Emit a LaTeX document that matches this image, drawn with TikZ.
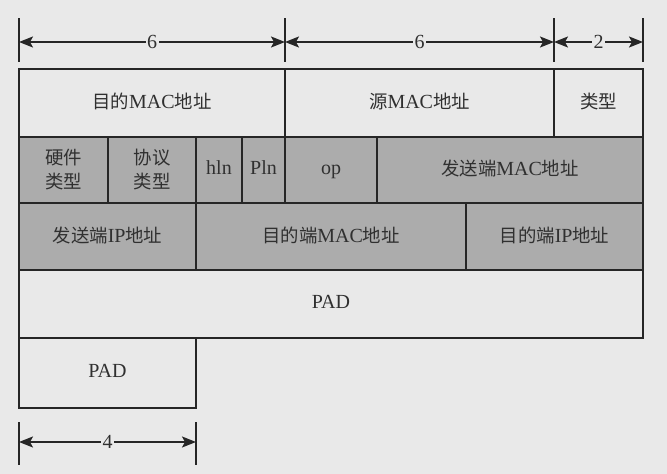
\documentclass[tikz,border=0pt]{standalone}
\usepackage{fontspec}
\setmainfont{Liberation Serif}
\newfontfamily\cjk[Scale=0.92]{Noto Sans CJK SC}
\usetikzlibrary{arrows.meta}
\definecolor{bgc}{HTML}{E9E9E9}
\definecolor{graycell}{HTML}{ACACAC}
\definecolor{linec}{HTML}{262626}
\definecolor{textc}{HTML}{303030}
\newcommand{\zh}[1]{{\cjk #1}}
\newcommand{\cellat}[7]{%
  \pgfmathsetmacro{\cw}{#4-#2}\pgfmathsetmacro{\ch}{#5-#3}%
  \node[#7, minimum width=\cw pt, minimum height=\ch pt] (#1) at ({(#2+#4)/2},{(#3+#5)/2}) {\vphantom{Ag}#6};}
\tikzset{
  cellbase/.style={draw=linec, line width=1.8pt, inner sep=0pt, outer sep=0pt, text=textc,
    font=\fontsize{20}{27}\selectfont, align=center},
  plaincell/.style={cellbase, fill=bgc},
  shadecell/.style={cellbase, fill=graycell},
  tickline/.style={draw=linec, line width=1.4pt},
  dimarrow/.style={draw=linec, line width=1.5pt, {Stealth[length=14pt,width=11pt,inset=3pt]}-{Stealth[length=14pt,width=11pt,inset=3pt]}},
  dimlabel/.style={fill=bgc, text=textc, inner sep=1.5pt, font=\fontsize{20}{22}\selectfont}
}
\begin{document}
\begin{tikzpicture}[x=1pt,y=-1pt]
\fill[bgc] (0,0) rectangle (667,474);
\useasboundingbox (0,0) rectangle (667,474);
% row 1
\cellat{dmac}{19}{69}{285}{137}{\zh{目的}MAC\zh{地址}}{plaincell}
\cellat{smac}{285}{69}{554}{137}{\zh{源}MAC\zh{地址}}{plaincell}
\cellat{etype}{554}{69}{643}{137}{\zh{类型}}{plaincell}
% row 2
\cellat{htype}{19}{137}{108}{203}{\zh{硬件}\\[-3pt]\zh{类型}}{shadecell}
\cellat{ptype}{108}{137}{196}{203}{\zh{协议}\\[-3pt]\zh{类型}}{shadecell}
\cellat{hln}{196}{137}{242}{203}{hln}{shadecell}
\cellat{pln}{242}{137}{285}{203}{Pln}{shadecell}
\cellat{op}{285}{137}{377}{203}{op}{shadecell}
\cellat{sndmac}{377}{137}{643}{203}{\zh{发送端}MAC\zh{地址}}{shadecell}
% row 3
\cellat{sndip}{19}{203}{196}{270}{\zh{发送端}IP\zh{地址}}{shadecell}
\cellat{tgtmac}{196}{203}{466}{270}{\zh{目的端}MAC\zh{地址}}{shadecell}
\cellat{tgtip}{466}{203}{643}{270}{\zh{目的端}IP\zh{地址}}{shadecell}
% pad rows
\cellat{pad}{19}{270}{643}{338}{PAD}{plaincell}
\cellat{padsmall}{19}{338}{196}{408}{PAD}{plaincell}
% top dimension ticks
\coordinate (ta1) at (19,18);  \coordinate (tb1) at (19,62);
\coordinate (ta2) at (285,18); \coordinate (tb2) at (285,62);
\coordinate (ta3) at (554,18); \coordinate (tb3) at (554,62);
\coordinate (ta4) at (643,18); \coordinate (tb4) at (643,62);
\draw[tickline] (ta1) -- (tb1);
\draw[tickline] (ta2) -- (tb2);
\draw[tickline] (ta3) -- (tb3);
\draw[tickline] (ta4) -- (tb4);
\coordinate (d1) at (19,42); \coordinate (d2) at (285,42);
\coordinate (d3) at (554,42); \coordinate (d4) at (643,42);
\draw[dimarrow] (d1) -- node[dimlabel] (l6a) {6} (d2);
\draw[dimarrow] (d2) -- node[dimlabel] (l6b) {6} (d3);
\draw[dimarrow] (d3) -- node[dimlabel] (l2) {2} (d4);
% bottom dimension
\coordinate (ba1) at (19,422); \coordinate (bb1) at (19,465);
\coordinate (ba2) at (196,422); \coordinate (bb2) at (196,465);
\draw[tickline] (ba1) -- (bb1);
\draw[tickline] (ba2) -- (bb2);
\coordinate (e1) at (19,442); \coordinate (e2) at (196,442);
\draw[dimarrow] (e1) -- node[dimlabel] (l4) {4} (e2);
\end{tikzpicture}
\end{document}
